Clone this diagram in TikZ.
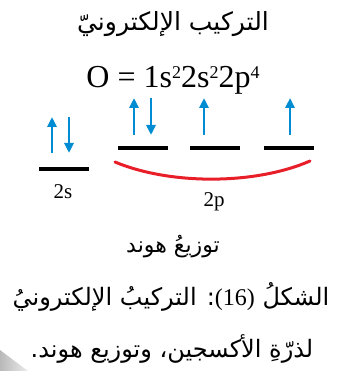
\documentclass[tikz,border=0pt]{standalone}
\usepackage{fontspec}
\setmainfont{Liberation Serif}
\newfontfamily\arabicfont[Script=Arabic]{DejaVu Sans}
\TeXXeTstate=1
\usetikzlibrary{arrows.meta, positioning}

\definecolor{spinblue}{RGB}{0,140,210}
\definecolor{hundred}{RGB}{232,30,40}
\newcommand{\orbsup}[1]{\raisebox{9pt}{\fontsize{18}{20}\selectfont #1}}

\begin{document}
\begin{tikzpicture}[
  x=1pt, y=-1pt,
  level/.style={fill=black, inner sep=0pt, minimum width=50pt, minimum height=4.5pt},
  spin/.style={-{Triangle[width=9pt,length=10pt]}, line width=2.6pt, spinblue},
  hund/.style={hundred, line width=3pt, line cap=round},
  ar/.style={font=\arabicfont\fontsize{24}{28}\selectfont, inner sep=0pt, anchor=base},
  lbl/.style={font=\fontsize{21}{24}\selectfont, inner sep=0pt, anchor=base}
]
\useasboundingbox (0,0) rectangle (340,371);

% titles
\node[ar, font=\arabicfont\fontsize{25}{29}\selectfont] (title) at (173,31) {\beginR التركيب الإلكترونيّ\endR};
\node[lbl, font=\fontsize{32}{35}\selectfont] (config) at (173,88)
  {O = 1s\orbsup{2}2s\orbsup{2}2p\orbsup{4}};

% energy levels
\node[level] (s) at (64,169) {};
\node[level] (px) at (143,148) {};
\node[level] (py) at (215,148) {};
\node[level] (pz) at (289,148) {};

% spins
\draw[spin] ([shift={(-12,-16)}]s.center) -- ++(0,-36);
\draw[spin] ([shift={(5,-52)}]s.center) -- ++(0,36);
\draw[spin] ([shift={(-9,-13)}]px.center) -- ++(0,-37);
\draw[spin] ([shift={(8,-50)}]px.center) -- ++(0,37);
\draw[spin] ([shift={(-11,-13)}]py.center) -- ++(0,-37);
\draw[spin] ([shift={(1,-13)}]pz.center) -- ++(0,-37);

% hund bracket
\coordinate (hl) at (115,162);
\coordinate (hr) at (310,161);
\draw[hund] (hl) .. controls (170,185) and (255,185) .. (hr);

\node[lbl] (slbl) at (63,198) {2s};
\node[lbl] (plbl) at (214,206) {2p};

% caption
\node[ar, font=\arabicfont\fontsize{22}{26}\selectfont] (hundlbl) at (173,252) {\beginR توزيعُ هوند\endR};
\node[ar] (cap1) at (171,305) {\beginR الشكلُ {\rmfamily\beginL(16)\endL}: التركيبُ الإلكترونيُ\endR};
\node[ar] (cap2) at (172,357) {\beginR لذرّةِ الأكسجين، وتوزيع هوند.\endR};

% page curl
\shade[left color=gray!55, right color=gray!15] (0,350) -- (28,371) -- (0,371) -- cycle;
\end{tikzpicture}
\end{document}
